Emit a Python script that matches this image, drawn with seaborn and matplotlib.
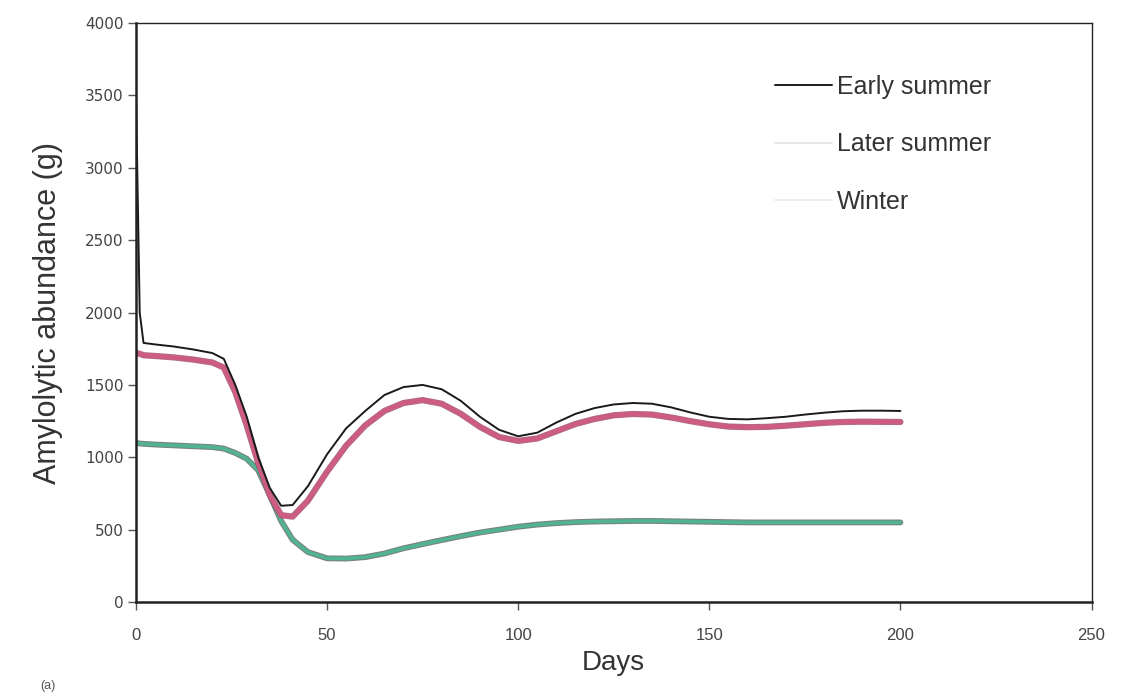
import matplotlib
matplotlib.use("Agg")
import matplotlib.pyplot as plt
import matplotlib.patheffects as pe
from matplotlib.lines import Line2D
import seaborn as sns
import pandas as pd

days = [0, 1, 2, 5, 10, 15, 20, 23, 26, 29, 32, 35, 38, 41, 45, 50, 55, 60, 65, 70,
        75, 80, 85, 90, 95, 100, 105, 110, 115, 120, 125, 130, 135, 140, 145, 150,
        155, 160, 165, 170, 175, 180, 185, 190, 195, 200]
early_summer = [3550, 2000, 1790, 1780, 1765, 1745, 1720, 1680, 1500, 1280, 1000, 790,
                665, 670, 800, 1020, 1200, 1320, 1430, 1485, 1500, 1470, 1390, 1280,
                1190, 1145, 1170, 1240, 1300, 1340, 1365, 1375, 1370, 1345, 1310, 1280,
                1265, 1262, 1270, 1280, 1295, 1308, 1318, 1322, 1322, 1320]
later_summer = [1720, 1715, 1705, 1700, 1690, 1675, 1655, 1620, 1450, 1220, 960, 740,
                600, 590, 700, 900, 1080, 1220, 1320, 1375, 1395, 1370, 1300, 1210,
                1140, 1113, 1130, 1180, 1230, 1265, 1290, 1299, 1295, 1275, 1250, 1228,
                1212, 1208, 1210, 1218, 1228, 1238, 1244, 1246, 1245, 1244]
winter = [1100, 1095, 1093, 1088, 1082, 1076, 1070, 1060, 1030, 990, 910, 740, 560,
          430, 345, 302, 300, 310, 335, 371, 400, 428, 455, 480, 500, 520, 535, 545,
          552, 556, 558, 560, 560, 558, 556, 554, 552, 550, 550, 550, 550, 550, 550,
          550, 550, 550]
series_names = ["Early summer", "Later summer", "Winter"]
x_ticks = [0, 50, 100, 150, 200, 250]
y_ticks = [0, 500, 1000, 1500, 2000, 2500, 3000, 3500, 4000]

frames = []
for name, vals in zip(series_names, [early_summer, later_summer, winter]):
    frames.append(pd.DataFrame({"Days": days, "value": vals, "season": name}))
df = pd.concat(frames, ignore_index=True)

sns.set_style("white")
plt.rcParams["font.family"] = ["Liberation Sans", "DejaVu Sans"]

fig = plt.figure(figsize=(11.23, 7.0), dpi=100)
ax = fig.add_axes([0.121, 0.140, 0.851, 0.827])

styles = {
    "Winter": dict(color="#52b394", lw=2.6, edge="#4a5a55", ew=4.2),
    "Later summer": dict(color="#cc5c80", lw=3.6, edge="#8a4558", ew=4.5),
    "Early summer": dict(color="#1a1a1a", lw=1.4, edge=None, ew=0),
}
for name in ["Winter", "Later summer", "Early summer"]:
    st = styles[name]
    sub = df[df["season"] == name]
    sns.lineplot(data=sub, x="Days", y="value", ax=ax, color=st["color"],
                 linewidth=st["lw"], legend=False, estimator=None, sort=True)
    line = ax.lines[-1]
    line.set_label(name)
    if st["edge"]:
        line.set_path_effects([pe.Stroke(linewidth=st["ew"], foreground=st["edge"], alpha=0.75),
                               pe.Normal()])

ax.set_xlim(0, 250)
ax.set_ylim(0, 4000)
ax.set_xticks(x_ticks)
ax.set_yticks(y_ticks)
ax.tick_params(axis="both", colors="#555555", length=6, width=1,
               direction="out", left=True, bottom=True)
ax.tick_params(axis="x", pad=13)
ax.tick_params(axis="y", pad=3)
for lab in ax.get_xticklabels():
    lab.set_family(["Liberation Sans Narrow", "Liberation Sans", "DejaVu Sans"])
    lab.set_fontsize(12)
    lab.set_color("#444444")
for lab in ax.get_yticklabels():
    lab.set_family(["DejaVu Sans"])
    lab.set_fontsize(11)
    lab.set_color("#444444")
for sp in ax.spines.values():
    sp.set_color("#222222")
    sp.set_linewidth(1.0)
ax.spines["left"].set_linewidth(1.8)
ax.spines["bottom"].set_linewidth(1.8)

ax.set_xlabel("Days", fontsize=20, color="#333333", labelpad=5)
ax.set_ylabel("Amylolytic abundance (g)", fontsize=22, color="#333333", labelpad=16)

handles = [Line2D([], [], color="#1a1a1a", lw=1.4),
           Line2D([], [], color="#e6e6e6", lw=1.4),
           Line2D([], [], color="#eeeeee", lw=1.4)]
leg = ax.legend(handles, series_names, loc="upper left", bbox_to_anchor=(0.645, 0.95),
                frameon=False, fontsize=18, handlelength=2.3, handletextpad=0.2,
                labelspacing=1.35, labelcolor="#333333")

fig.text(0.036, 0.016, "(a)", fontsize=9, color="#555555")

fig.savefig("out.png", dpi=100, facecolor="white")
